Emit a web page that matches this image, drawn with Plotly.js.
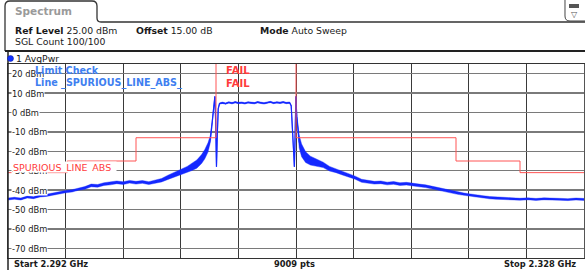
<!DOCTYPE html>
<html>
<head>
<meta charset="utf-8">
<script src="https://cdn.plot.ly/plotly-3.0.1.min.js"></script>
<style>html,body{margin:0;padding:0;background:#fff;}#chart{width:585px;height:270px;}</style>
</head>
<body>
<div id="chart"></div>
<script>
// ---- data ----
const freqMHz = [
  2292.0,2292.4,2292.8,2293.2,2293.6,2294.0,2294.4,2294.8,2295.2,2295.6,2296.0,2296.4,2296.8,2297.2,2297.6,2298.0,2298.4,2298.8,2299.2,2299.6,2300.0,2300.4,2300.8,2301.2,2301.6,
  2302.0,2302.4,2302.8,2303.2,2303.5,2303.8,2304.1,2304.3,2304.5,2304.65,2304.75,2304.85,2304.93,2304.98,2305.03,2305.08,2305.14,2305.22,
  2305.4,2305.6,2305.8,2306.0,2306.2,2306.4,2306.6,2306.8,2307.0,2307.2,2307.4,2307.6,2307.8,2308.0,2308.2,2308.4,2308.6,2308.8,2309.0,2309.2,2309.4,2309.6,
  2309.7,2309.76,2309.82,2309.9,2309.95,2309.99,2310.05,2310.12,2310.2,2310.35,2310.6,2310.9,2311.3,2311.7,2312.1,2312.5,2312.9,
  2313.3,2313.7,2314.1,2314.5,2314.9,2315.3,2315.7,2316.1,2316.5,2316.9,2317.3,2317.7,2318.1,2318.5,2318.9,2319.3,2319.7,2320.1,2320.5,2320.9,2321.3,2321.7,2322.1,2322.5,2323.0,2323.5,2324.0,2324.5,2325.0,2325.5,2326.0,2326.5,2327.0,2327.5,2328.0
];
const levelDbm = [
  -44.6,-44.2,-44.6,-43.6,-43.9,-43.0,-42.7,-42.0,-41.6,-40.8,-40.4,-39.5,-38.9,-37.6,-37.8,-36.9,-36.6,-36.0,-36.4,-35.7,-36.2,-35.8,-36.4,-35.6,-34.9,
  -33.4,-32.0,-30.6,-29.5,-28.0,-26.6,-24.0,-21.5,-18.0,-13.5,-6.0,2.0,8.3,-5.0,-28.0,-12.0,2.0,4.6,
  5.0,4.6,5.2,4.8,5.3,4.9,5.1,4.7,5.2,5.0,4.8,5.3,5.0,4.7,5.1,5.4,4.9,5.2,5.0,5.3,4.9,5.1,
  3.5,-6.0,-18.0,-28.0,-10.0,8.3,-2.0,-10.0,-15.0,-19.5,-23.0,-24.8,-25.8,-27.0,-29.0,-30.0,-31.4,
  -32.5,-33.6,-35.2,-35.6,-36.2,-36.0,-36.6,-36.3,-36.9,-36.7,-37.3,-37.6,-38.0,-38.7,-39.5,-40.2,-41.0,-41.5,-42.1,-42.6,-43.2,-43.5,-43.9,-44.1,-44.4,-44.3,-44.7,-44.5,-44.8,-44.5,-44.7,-44.6,-44.9,-44.6,-44.8
];
const spreadDb = [
  0.5,0.5,0.5,0.5,0.5,0.55,0.55,0.55,0.55,0.6,0.6,0.6,0.7,0.7,0.7,0.7,0.7,0.7,0.7,0.7,0.7,0.7,0.75,0.8,0.9,
  1.1,1.3,1.5,1.7,1.9,2.1,2.3,2.4,2.4,1.8,0.8,0.4,0,0,0,0,0.2,0.3,
  0.35,0.35,0.35,0.35,0.35,0.35,0.35,0.35,0.35,0.35,0.35,0.35,0.35,0.35,0.35,0.35,0.35,0.35,0.35,0.35,0.35,0.35,
  0.2,0,0,0,0,0,0.8,2.3,3.3,3.3,2.8,2.3,1.8,1.4,1.2,1.0,0.8,
  0.8,0.8,0.8,0.7,0.7,0.7,0.7,0.7,0.7,0.7,0.7,0.7,0.7,0.7,0.7,0.7,0.7,0.7,0.6,0.6,0.6,0.6,0.6,0.6,0.5,0.5,0.5,0.5,0.5,0.5,0.5,0.5,0.5,0.5,0.5
];
const limitFreq = [2292, 2295.7, 2295.7, 2300, 2300, 2305, 2305, 2310, 2310, 2320, 2320, 2324, 2324, 2328];
const limitDbm  = [-31, -31, -25, -25, -13, -13, 40, 40, -13, -13, -25, -25, -31, -31];
const yTickVals = [20, 10, 0, -10, -20, -30, -40, -50, -60, -70];
const yTickText = ['20 dBm','10 dBm','0 dBm','-10 dBm','-20 dBm','-30 dBm','-40 dBm','-50 dBm','-60 dBm','-70 dBm'];

// ---- geometry helpers (pixel -> paper) ----
const W = 585, H = 270, L = 8, R = 1, T = 64, B = 12;
const PW = W - L - R, PH = H - T - B;
const px = x => (x - L) / PW;
const py = y => (T + PH - y) / PH;
const FONT = 'DejaVu Sans, Verdana, sans-serif';

const hi = levelDbm.map((v, i) => v + spreadDb[i]);
const lo = levelDbm.map((v, i) => v - spreadDb[i]);

const BLUE = '#1428ff';
const traces = [
  {x: freqMHz, y: hi, mode: 'lines', line: {width: 0.4, color: BLUE}, hoverinfo: 'skip', showlegend: false},
  {x: freqMHz, y: lo, mode: 'lines', line: {width: 0.4, color: BLUE}, fill: 'tonexty', fillcolor: BLUE, hoverinfo: 'skip', showlegend: false},
  {x: freqMHz, y: levelDbm, mode: 'lines', line: {width: 1.2, color: BLUE}, showlegend: false},
  {x: limitFreq, y: limitDbm, mode: 'lines', line: {width: 1, color: '#ff5555'}, showlegend: false}
];

const ann = [];
function txt(x, y, text, opts) {
  ann.push(Object.assign({xref: 'paper', yref: 'paper', x: px(x), y: py(y), text: text,
    showarrow: false, xanchor: 'left', yanchor: 'middle',
    font: {family: FONT, size: 9.3, color: '#1a1a1a'}}, opts || {}));
}
// header
txt(13, 11, '<b>Spectrum</b>', {font: {family: FONT, size: 10.5, color: '#9a9a9a'}});
txt(13, 31, '<b>Ref Level</b> 25.00 dBm');
txt(134, 31, '<b>Offset</b> 15.00 dB');
txt(258, 31, '<b>Mode</b> Auto Sweep');
txt(13, 42, 'SGL Count 100/100');
txt(14, 58.5, '1 AvgPwr');
// y labels inside plot
yTickVals.forEach((v, i) => {
  ann.push({xref: 'paper', yref: 'y', x: px(11), y: v, text: yTickText[i], showarrow: false,
    xanchor: 'left', yanchor: 'middle', bgcolor: '#ffffff', borderpad: 0, height: 9,
    font: {family: FONT, size: 8.3, color: '#1a1a1a'}});
});
// limit check texts
txt(33, 70.5, '<b>Limit Check</b>', {font: {family: FONT, size: 9.6, color: '#3f7ff0'}});
txt(33, 83, '<b>Line _SPURIOUS_LINE_ABS_</b>', {font: {family: FONT, size: 9.6, color: '#3f7ff0'}});
txt(224, 70.5, '<b>FAIL</b>', {font: {family: FONT, size: 10, color: '#ff3b3b'}});
txt(224, 83, '<b>FAIL</b>', {font: {family: FONT, size: 10, color: '#ff3b3b'}});
txt(12, 166.5, 'SPURIOUS_LINE_ABS_', {bgcolor: '#ffffff', borderpad: 0, height: 10,
  font: {family: FONT, size: 9.5, color: '#ff3b3b'}});
// footer
txt(12, 264, '<b>Start 2.292 GHz</b>', {font: {family: FONT, size: 8.3, color: '#1a1a1a'}});
txt(294, 264, '<b>9009 pts</b>', {xanchor: 'center', font: {family: FONT, size: 8.3, color: '#1a1a1a'}});
txt(578, 264, '<b>Stop 2.328 GHz</b>', {xanchor: 'right', font: {family: FONT, size: 8.3, color: '#1a1a1a'}});
txt(574, 14, '▽', {xanchor: 'center', font: {family: FONT, size: 8, color: '#555'}});

function P(x, y) { return px(x).toFixed(5) + ',' + py(y).toFixed(5); }
const shapes = [
  {type: 'path', xref: 'paper', yref: 'paper', layer: 'above',
   path: 'M' + P(5, 51) + ' L' + P(5, 6) + ' Q' + P(5, 1) + ' ' + P(10, 1) + ' L' + P(92, 1) +
         ' Q' + P(97, 1) + ' ' + P(97, 6) + ' L' + P(97, 18) + ' Q' + P(97, 22) + ' ' + P(101, 22) + ' L' + P(585, 22),
   line: {color: '#333', width: 1.3}},
  {type: 'line', xref: 'paper', yref: 'paper', x0: px(5), x1: px(585), y0: py(51), y1: py(51), line: {color: '#222', width: 2}},
  {type: 'line', xref: 'paper', yref: 'paper', x0: px(8), x1: px(8), y0: py(51), y1: py(270), line: {color: '#222', width: 1.5}},
  {type: 'path', xref: 'paper', yref: 'paper',
   path: 'M' + P(565, 0) + ' L' + P(565, 16) + ' Q' + P(565, 21) + ' ' + P(570, 21) + ' L' + P(585, 21),
   line: {color: '#444', width: 1}},
  {type: 'rect', xref: 'paper', yref: 'paper', x0: px(569), x1: px(579), y0: py(4), y1: py(8),
   fillcolor: '#555', line: {width: 0}},
  {type: 'circle', xref: 'paper', yref: 'paper', x0: px(7.5), x1: px(13.5), y0: py(55.5), y1: py(61.5),
   fillcolor: '#1030ff', line: {color: '#0a1a99', width: 0.5}}
];

const layout = {
  width: W, height: H,
  margin: {l: L, r: R, t: T, b: B, pad: 0},
  paper_bgcolor: '#ffffff', plot_bgcolor: '#ffffff',
  showlegend: false,
  xaxis: {range: [2292, 2328], tick0: 2292, dtick: 3.6, showgrid: true, gridcolor: '#3a3a3a', gridwidth: 1,
          zeroline: false, showticklabels: false, ticks: '', showline: true, mirror: true, linecolor: '#333', linewidth: 1, fixedrange: true},
  yaxis: {range: [-75, 25], tick0: -70, dtick: 10, showgrid: true, gridcolor: '#7a7a7a', gridwidth: 1.4,
          zeroline: false, showticklabels: false, ticks: '', showline: true, mirror: true, linecolor: '#555', linewidth: 1, fixedrange: true},
  annotations: ann,
  shapes: shapes,
  font: {family: FONT}
};
Plotly.newPlot('chart', traces, layout, {displayModeBar: false, staticPlot: true});
</script>
</body>
</html>
